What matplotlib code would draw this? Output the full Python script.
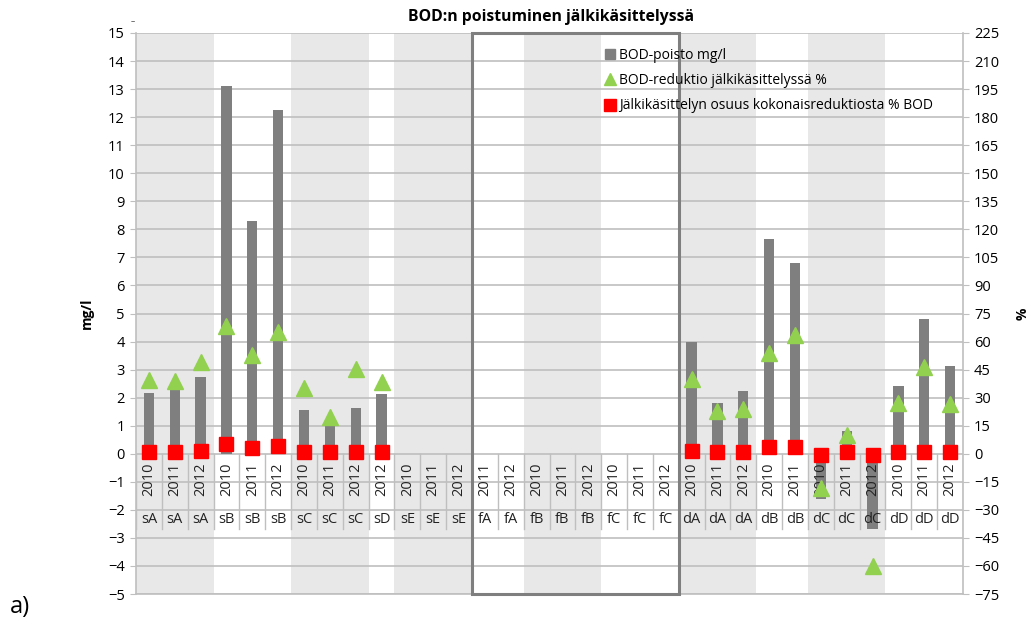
import numpy as np
import matplotlib
matplotlib.use("Agg")
import matplotlib.pyplot as plt
from matplotlib.lines import Line2D
from matplotlib.patches import Rectangle

plt.rcParams['font.family'] = ['Open Sans', 'DejaVu Sans']

# Category axis: plant group and year
groups = ['sA', 'sA', 'sA', 'sB', 'sB', 'sB', 'sC', 'sC', 'sC', 'sD',
          'sE', 'sE', 'sE', 'fA', 'fA', 'fB', 'fB', 'fB', 'fC', 'fC', 'fC',
          'dA', 'dA', 'dA', 'dB', 'dB', 'dC', 'dC', 'dC', 'dD', 'dD', 'dD']
years = ['2010', '2011', '2012', '2010', '2011', '2012', '2010', '2011', '2012', '2012',
         '2010', '2011', '2012', '2011', '2012', '2010', '2011', '2012', '2010', '2011', '2012',
         '2010', '2011', '2012', '2010', '2011', '2010', '2011', '2012', '2010', '2011', '2012']

nan = np.nan
# BOD removal, mg/l
bod_removal = [2.15, 2.4, 2.75, 13.1, 8.3, 12.25, 1.55, 1.1, 1.62, 2.13,
               nan, nan, nan, nan, nan, nan, nan, nan, nan, nan, nan,
               4.0, 1.8, 2.22, 7.65, 6.8, -1.6, 0.8, -2.7, 2.4, 4.8, 3.13]
# BOD reduction in post-treatment, %
bod_reduction = [39.5, 38.8, 49.0, 68.5, 53.0, 65.0, 35.0, 19.5, 45.5, 38.5,
                 nan, nan, nan, nan, nan, nan, nan, nan, nan, nan, nan,
                 40.0, 23.0, 24.0, 54.0, 63.5, -18.5, 10.0, -60.0, 27.0, 46.5, 26.5]
# Share of post-treatment in total reduction, % BOD
share_total = [0.8, 0.9, 1.3, 5.3, 3.1, 4.4, 0.8, 0.8, 1.2, 0.8,
               nan, nan, nan, nan, nan, nan, nan, nan, nan, nan, nan,
               1.6, 0.8, 1.2, 3.5, 3.4, -0.6, 0.9, -0.9, 0.9, 1.1, 0.8]

legend_labels = ['BOD-poisto mg/l', 'BOD-reduktio jälkikäsittelyssä %',
                 'Jälkikäsittelyn osuus kokonaisreduktiosta % BOD']
shaded_groups = ['sA', 'sC', 'sE', 'fB', 'dA', 'dC']
boxed_groups = ['fA', 'fB', 'fC']

GRID = '#bfbfbf'
BAR = '#7f7f7f'
GREEN = '#92d050'
RED = '#ff0000'

fig = plt.figure(figsize=(10.34, 6.28), dpi=100)
ax = fig.add_axes([136 / 1034, 1 - 594 / 628, 827 / 1034, 561 / 628])
x = np.arange(len(groups))

ax.set_xlim(-0.5, len(groups) - 0.5)
ax.set_ylim(-5, 15)

# alternating group shading
for g in shaded_groups:
    idx = [i for i, gg in enumerate(groups) if gg == g]
    ax.axvspan(min(idx) - 0.5, max(idx) + 0.5, color='#e8e8e8', lw=0, zorder=0)

# horizontal gridlines
for v in range(-5, 16):
    ax.axhline(v, color=GRID, lw=1.2, zorder=1)

# bars
ax.bar(x, bod_removal, width=0.4, color=BAR, zorder=3)

# two-level category labels inside the plot
for i in range(len(groups)):
    ax.text(i, -0.3, years[i], rotation=90, ha='center', va='top',
            fontsize=10.5, color='#222222', zorder=4)
    ax.text(i, -2.35, groups[i], ha='center', va='center',
            fontsize=10.5, color='#222222', zorder=4)
for i in range(len(groups) + 1):
    ax.plot([i - 0.5, i - 0.5], [0, -2.68], color=GRID, lw=1.0, zorder=2)

# frame around the f-group
bidx = [i for i, gg in enumerate(groups) if gg in boxed_groups]
ax.add_patch(Rectangle((min(bidx) - 0.5, -5), max(bidx) - min(bidx) + 1, 20,
                       fill=False, edgecolor='#7f7f7f', lw=2.2, zorder=5,
                       clip_on=False))

ax.set_xticks([])
ax.set_yticks(range(-5, 16))
ax.tick_params(axis='y', length=4, color=GRID, labelsize=10.5, pad=4)
for side in ['left', 'right', 'bottom']:
    ax.spines[side].set_color(GRID)
    ax.spines[side].set_linewidth(1.2)
ax.spines['top'].set_visible(False)
ax.set_ylabel('mg/l', fontsize=10, fontweight='bold', labelpad=10)

# secondary axis for percentages
ax2 = ax.twinx()
ax2.set_ylim(-75, 225)
ax2.set_yticks(range(-75, 226, 15))
ax2.tick_params(axis='y', length=4, color=GRID, labelsize=10.5, pad=4)
for s in ax2.spines.values():
    s.set_visible(False)
ax2.plot(x, bod_reduction, ls='none', marker='^', ms=12, color=GREEN, zorder=6)
ax2.plot(x, share_total, ls='none', marker='s', ms=10.5, color=RED, zorder=7)
ax2.set_ylabel('%', fontsize=10, fontweight='bold', labelpad=12)

handles = [
    Line2D([], [], ls='none', marker='s', ms=7, color=BAR),
    Line2D([], [], ls='none', marker='^', ms=8, color=GREEN),
    Line2D([], [], ls='none', marker='s', ms=8, color=RED),
]
fig.legend(handles, legend_labels, loc='upper left',
           bbox_to_anchor=(600 / 1034, 1 - 42 / 628), frameon=False,
           fontsize=10, handlelength=0.7, handletextpad=0.3,
           labelspacing=0.75, borderaxespad=0)

fig.text(551 / 1034, 1 - 17 / 628, 'BOD:n poistuminen jälkikäsittelyssä',
         ha='center', va='center', fontsize=11.3, fontweight='bold')
fig.text(133 / 1034, 1 - 22 / 628, '–', ha='center', va='center', fontsize=6)
fig.text(10 / 1034, 1 - 607 / 628, 'a)', ha='left', va='center', fontsize=17)

fig.savefig('out.png', dpi=100)
